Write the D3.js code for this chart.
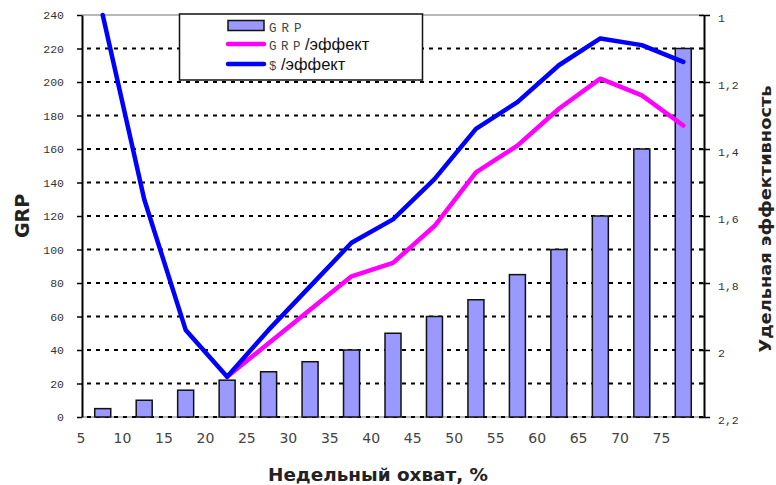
<!DOCTYPE html>
<html>
<head>
<meta charset="utf-8">
<script src="https://cdn.jsdelivr.net/npm/d3@7"></script>
<style>
  html, body { margin: 0; padding: 0; background: #fff; }
  svg { display: block; }
</style>
</head>
<body>
<svg id="chart" width="776" height="485"></svg>
<script>
// Weekly reach bins (lower bound of each 5% bin)
const reachLabels = [5, 10, 15, 20, 25, 30, 35, 40, 45, 50, 55, 60, 65, 70, 75];
// GRP needed for each reach bin
const grpValues = [5, 10, 16, 22, 27, 33, 40, 50, 60, 70, 85, 100, 120, 160, 220];
// Specific efficiency: GRP based
const grpEffect = [null, null, null, 2.08, 1.98, 1.88, 1.78, 1.74, 1.63, 1.47, 1.39, 1.28, 1.19, 1.24, 1.33];
// Specific efficiency: cost based
const costEffect = [1.00, 1.55, 1.94, 2.08, 1.94, 1.81, 1.68, 1.61, 1.49, 1.34, 1.26, 1.15, 1.07, 1.09, 1.14];
// Axis tick values
const grpTicks = [0, 20, 40, 60, 80, 100, 120, 140, 160, 180, 200, 220, 240];
const effTicks = [1, 1.2, 1.4, 1.6, 1.8, 2, 2.2];
const effMinorTicks = [1.1, 1.3, 1.5, 1.7, 1.9, 2.1];
// Legend entries
const legendItems = [
  { type: "bar", head: "GRP", tail: "" },
  { type: "line", color: "#ff00ff", head: "GRP", tail: "/эффект" },
  { type: "line", color: "#0000ff", head: "$", tail: "/эффект" }
];

const svg = d3.select("#chart");
const plot = { left: 82, right: 704, top: 15, bottom: 417 };

const x = d3.scaleBand().domain(reachLabels).range([plot.left, plot.right]).paddingInner(0).paddingOuter(0);
const yLeft = d3.scaleLinear().domain([0, 240]).range([plot.bottom, plot.top]);
const yRight = d3.scaleLinear().domain([1, 2.2]).range([plot.top, plot.bottom]);

const monoFont = "'Liberation Mono', 'DejaVu Sans Mono', monospace";
const sansFont = "'DejaVu Sans', Verdana, sans-serif";

// Plot frame lines (top and bottom), gray
svg.append("g").selectAll("line")
  .data([240, 0])
  .join("line")
  .attr("x1", plot.left).attr("x2", plot.right)
  .attr("y1", d => yLeft(d)).attr("y2", d => yLeft(d))
  .attr("stroke", "#a0a0a0").attr("stroke-width", 1.5);

// Dotted horizontal gridlines
svg.append("g").selectAll("line")
  .data(grpTicks.filter(d => d < 240))
  .join("line")
  .attr("x1", plot.left).attr("x2", plot.right)
  .attr("y1", d => yLeft(d)).attr("y2", d => yLeft(d))
  .attr("stroke", "#000").attr("stroke-width", 2)
  .attr("stroke-dasharray", "4,5")
  .attr("stroke-dashoffset", -5);

// Bars
const barW = 16;
svg.append("g").selectAll("rect")
  .data(grpValues)
  .join("rect")
  .attr("x", (d, i) => x(reachLabels[i]) + x.bandwidth() / 2 - barW / 2)
  .attr("y", d => yLeft(d))
  .attr("width", barW)
  .attr("height", d => yLeft(0) - yLeft(d))
  .attr("fill", "#9999ff")
  .attr("stroke", "#111")
  .attr("stroke-width", 1.5);

// Efficiency lines on the right axis
const lineGen = d3.line()
  .defined(d => d.v != null)
  .x(d => x(d.k) + x.bandwidth() / 2)
  .y(d => yRight(d.v));

[[grpEffect, "#ff00ff"], [costEffect, "#0000ff"]].forEach(([vals, color]) => {
  svg.append("path")
    .datum(vals.map((v, i) => ({ k: reachLabels[i], v })))
    .attr("d", lineGen)
    .attr("fill", "none")
    .attr("stroke", color)
    .attr("stroke-width", 4.5)
    .attr("stroke-linejoin", "round")
    .attr("stroke-linecap", "round");
});

// Left axis
const leftAxis = svg.append("g").attr("transform", `translate(${plot.left},0)`)
  .call(d3.axisLeft(yLeft).tickValues(grpTicks).tickSize(5).tickPadding(13).tickSizeOuter(0));
leftAxis.select(".domain").attr("stroke", "#000").attr("stroke-width", 2);
leftAxis.selectAll(".tick line").attr("stroke", "#000").attr("stroke-width", 1.5);
leftAxis.selectAll(".tick text")
  .attr("font-family", monoFont).attr("font-size", 11.5).attr("fill", "#333");

// Right axis with minor ticks
const rightAxis = svg.append("g").attr("transform", `translate(${plot.right},0)`)
  .call(d3.axisRight(yRight).tickValues(effTicks).tickSize(6).tickPadding(8).tickSizeOuter(0)
    .tickFormat(d => d3.format(".1~f")(d).replace(".", ",")));
rightAxis.select(".domain").attr("stroke", "#000").attr("stroke-width", 2);
rightAxis.selectAll(".tick line").attr("x1", -5).attr("stroke", "#000").attr("stroke-width", 1.5);
rightAxis.selectAll(".tick text")
  .attr("font-family", monoFont).attr("font-size", 11.5).attr("fill", "#333")
  .attr("dy", "0.55em");
rightAxis.append("g").selectAll("line")
  .data(effMinorTicks)
  .join("line")
  .attr("x1", -5).attr("x2", 0)
  .attr("y1", d => yRight(d)).attr("y2", d => yRight(d))
  .attr("stroke", "#000").attr("stroke-width", 1.5);

// Bottom category labels at the start of each bin
svg.append("g").selectAll("text")
  .data(reachLabels)
  .join("text")
  .attr("x", d => x(d) - 1)
  .attr("y", 443)
  .attr("text-anchor", "middle")
  .attr("font-family", sansFont)
  .attr("font-size", 14)
  .attr("fill", "#444")
  .text(d => d);

// Axis titles
svg.append("text")
  .attr("transform", "translate(29,216) rotate(-90)")
  .attr("text-anchor", "middle")
  .attr("font-family", sansFont).attr("font-weight", "bold")
  .attr("font-size", 19).attr("fill", "#222")
  .text("GRP");

svg.append("text")
  .attr("transform", "translate(771,219) rotate(-90)")
  .attr("text-anchor", "middle")
  .attr("font-family", sansFont).attr("font-weight", "bold")
  .attr("font-size", 16).attr("fill", "#222")
  .attr("textLength", 267).attr("lengthAdjust", "spacingAndGlyphs")
  .text("Удельная эффективность");

svg.append("text")
  .attr("x", 378).attr("y", 481)
  .attr("text-anchor", "middle")
  .attr("font-family", sansFont).attr("font-weight", "bold")
  .attr("font-size", 17).attr("fill", "#222")
  .attr("textLength", 220).attr("lengthAdjust", "spacingAndGlyphs")
  .text("Недельный охват, %");

// Legend
const legend = svg.append("g");
legend.append("rect")
  .attr("x", 179.5).attr("y", 14).attr("width", 243).attr("height", 66)
  .attr("fill", "#fff").attr("stroke", "#111").attr("stroke-width", 1.5);

const rowY = [25.5, 44, 64];
legendItems.forEach((item, i) => {
  const cy = rowY[i];
  if (item.type === "bar") {
    legend.append("rect")
      .attr("x", 228).attr("y", cy - 5).attr("width", 36).attr("height", 10)
      .attr("fill", "#9999ff").attr("stroke", "#111").attr("stroke-width", 1.5);
  } else {
    legend.append("line")
      .attr("x1", 228).attr("x2", 264).attr("y1", cy).attr("y2", cy)
      .attr("stroke", item.color).attr("stroke-width", 4.5).attr("stroke-linecap", "round");
  }
  const t = legend.append("text").attr("x", 269).attr("y", cy + 6);
  t.append("tspan")
    .attr("font-family", monoFont).attr("font-size", 12.5)
    .attr("letter-spacing", item.tail ? 4.5 : 5)
    .attr("fill", "#444")
    .text(item.head);
  if (item.tail) {
    t.append("tspan")
      .attr("font-family", "'Liberation Sans', Arial, sans-serif").attr("font-size", 16.5)
      .attr("fill", "#111")
      .text(item.tail);
  }
});
</script>
</body>
</html>
